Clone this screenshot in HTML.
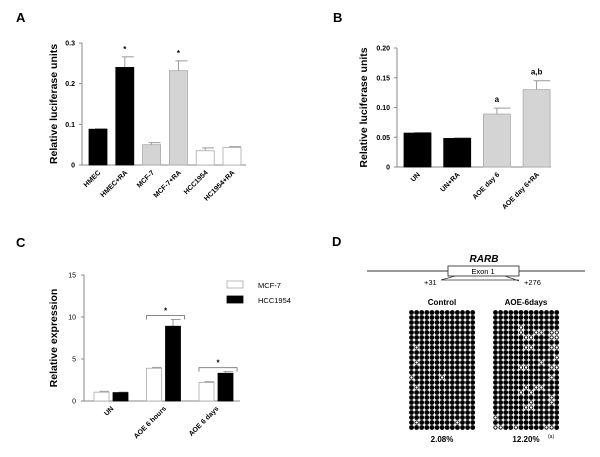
<!DOCTYPE html>
<html><head><meta charset="utf-8"><style>
html,body{margin:0;padding:0;background:#fff;}
svg{display:block;font-family:"Liberation Sans",Arial,sans-serif;}
</style></head><body>
<svg id="fig" width="600" height="457" viewBox="0 0 600 457">
<g id="pA"></g>
<g id="pB"></g>
<g id="pC"></g>
<g id="pD"></g>
</svg>
<script>
// Panel A data
const aCats=["HMEC","HMEC+RA","MCF-7","MCF-7+RA","HCC1954","HC1954+RA"];
const aVals=[0.088,0.240,0.050,0.232,0.035,0.043];
const aErr=[0.001,0.026,0.005,0.024,0.007,0.002];
const aColors=["#000","#000","#d4d4d4","#d4d4d4","#fff","#fff"];
const aStars=["","*","","*","",""];
const aTicks=[0,0.1,0.2,0.3];
const aTickLabels=["0","0.1","0.2","0.3"];
// Panel B data
const bCats=["UN","UN+RA","AOE day 6","AOE day 6+RA"];
const bVals=[0.057,0.048,0.089,0.130];
const bErr=[0.001,0.001,0.010,0.015];
const bColors=["#000","#000","#d4d4d4","#d4d4d4"];
const bNotes=["","","a","a,b"];
const bTicks=[0,0.05,0.10,0.15,0.20];
const bTickLabels=["0","0.05","0.10","0.15","0.20"];
// Panel C data
const cCats=["UN","AOE 6 hours","AOE 6 days"];
const cMCF=[1.05,3.9,2.2];
const cMCFErr=[0.1,0.1,0.1];
const cHCC=[1.0,8.9,3.3];
const cHCCErr=[0.05,0.8,0.2];
const cTicks=[0,5,10,15];
const cSeries=["MCF-7","HCC1954"];
// Panel D data (row,col) unmethylated sites
const dControlOpen=[[7,1],[10,1],[13,0],[13,6],[15,1],[22,1],[22,9]];
const dAoeOpen=[[3,5],[4,5],[4,8],[4,9],[4,11],[4,12],[5,6],[5,7],[5,11],[5,12],[7,6],[7,7],[7,11],[7,12],[9,12],[10,9],[11,5],[11,6],[11,11],[11,12],[13,11],[15,6],[15,8],[15,9],[16,5],[16,7],[17,11],[18,7],[18,11],[19,6],[19,7],[21,0],[23,0],[23,1],[23,4],[23,10],[23,11]];
const dLabels=["Control","AOE-6days"];

const NS="http://www.w3.org/2000/svg";
function el(parent,tag,attrs,text){const e=document.createElementNS(NS,tag);for(const k in attrs)e.setAttribute(k,attrs[k]);if(text!==undefined)e.textContent=text;parent.appendChild(e);return e;}

function barPanel(g,o){
  const y=v=>o.y0-(v/o.max)*(o.y0-o.yTop);
  // axes
  const ya=el(g,'line',{x1:o.ax,y1:o.yTop,x2:o.ax,y2:o.y0,stroke:'#888','stroke-width':1});
  
  
  const xa=el(g,'line',{x1:o.ax,y1:o.y0,x2:o.xEnd,y2:o.y0,stroke:'#888','stroke-width':1});
  
  
  o.ticks.forEach((t,i)=>{
    const tl=el(g,'line',{x1:o.ax-3,y1:y(t),x2:o.ax,y2:y(t),stroke:'#888'});
    
    
    const tx=el(g,'text',{x:o.ax-7,y:y(t)+2.5,'text-anchor':'end','font-size':7,'font-weight':'bold'},o.tickLabels[i]);
    
    
  });
  const tt=el(g,'text',{x:0,y:0,transform:`translate(${o.titleX},${(o.yTop+o.y0)/2}) rotate(-90)`,'text-anchor':'middle','font-size':o.titleSize||10.5,'font-weight':'bold'},o.title);
  
  
  o.vals.forEach((v,i)=>{
    const x=o.x0+i*o.step;
    if(o.err[i]>0.0015*o.max){
      const e1=el(g,'line',{x1:x+o.w/2,y1:y(v),x2:x+o.w/2,y2:y(v+o.err[i]),stroke:'#999'});
      
      
      const e2=el(g,'line',{x1:x+o.w/2-3,y1:y(v+o.err[i]),x2:x+o.w/2+o.w/2,y2:y(v+o.err[i]),stroke:'#999'});
      
      
    }
    const r=el(g,'rect',{x:x,y:y(v),width:o.w,height:o.y0-y(v),fill:o.colors[i],stroke:o.colors[i]==='#000'?'#000':'#aaa','stroke-width':0.8});
    
    
    if(o.notes[i]){
      const n=el(g,'text',{x:x+o.w/2,y:y(v+o.err[i])-o.noteGap,'text-anchor':'middle','font-size':o.noteSize,'font-weight':'bold'},o.notes[i]);
      
      
    }
    const lb=el(g,'text',{x:0,y:0,transform:`translate(${x+o.w/2+3},${o.y0+8}) rotate(-45)`,'text-anchor':'end','font-size':7,'font-weight':'bold'},o.cats[i]);
    
    
  });
}

const A=document.getElementById('pA');
const la=el(A,'text',{x:16,y:22,'font-size':13,'font-weight':'bold'},'A');


barPanel(A,{ax:82,yTop:43,y0:165,xEnd:246,max:0.3,ticks:aTicks,tickLabels:aTickLabels,title:'Relative luciferase units',titleX:57,
  vals:aVals,err:aErr,colors:aColors,cats:aCats,notes:aStars,x0:89,step:26.8,w:18,noteGap:5,noteSize:8});

const B=document.getElementById('pB');
const lbB=el(B,'text',{x:333,y:22,'font-size':13,'font-weight':'bold'},'B');


barPanel(B,{ax:397,yTop:48,y0:167,xEnd:551,max:0.2,ticks:bTicks,tickLabels:bTickLabels,title:'Relative luciferase units',titleX:367,
  vals:bVals,err:bErr,colors:bColors,cats:bCats,notes:bNotes,x0:404,step:39.7,w:27,noteGap:6,noteSize:8});

// Panel C
const C=document.getElementById('pC');
(function(){
  const ax=84,yTop=275,y0=401,xEnd=240,max=15;
  const y=v=>y0-(v/max)*(y0-yTop);
  const lc=el(C,'text',{x:16,y:247,'font-size':13,'font-weight':'bold'},'C');
  
  
  const ya=el(C,'line',{x1:ax,y1:yTop,x2:ax,y2:y0,stroke:'#888'});
  
  
  const xa=el(C,'line',{x1:ax,y1:y0,x2:xEnd,y2:y0,stroke:'#888'});
  
  
  cTicks.forEach(t=>{
    const tl=el(C,'line',{x1:ax-3,y1:y(t),x2:ax,y2:y(t),stroke:'#888'});
    
    
    const tx=el(C,'text',{x:ax-8,y:y(t)+2.5,'text-anchor':'end','font-size':7},String(t));
    
    
  });
  const tt=el(C,'text',{x:0,y:0,transform:`translate(57,${(yTop+y0)/2}) rotate(-90)`,'text-anchor':'middle','font-size':10.5,'font-weight':'bold'},'Relative expression');
  
  
  const gx0=94,gstep=52.5,w=15,gap=4;
  cCats.forEach((c,i)=>{
    const x1=gx0+i*gstep,x2=x1+w+gap;
    [[x1,cMCF[i],cMCFErr[i],'#fff','mcf7'],[x2,cHCC[i],cHCCErr[i],'#000','hcc1954']].forEach(([x,v,e,f,n])=>{
      const eb=el(C,'line',{x1:x+w/2,y1:y(v),x2:x+w/2,y2:y(v+e),stroke:'#999'});
      
      
      const ec=el(C,'line',{x1:x+w/2-2,y1:y(v+e),x2:x+w/2+w/2,y2:y(v+e),stroke:'#999'});
      
      
      const r=el(C,'rect',{x:x,y:y(v),width:w,height:y0-y(v),fill:f,stroke:f==='#000'?'#000':'#aaa','stroke-width':0.8});
      
      
    });
    const lb=el(C,'text',{x:0,y:0,transform:`translate(${x1+w+gap/2+3},${y0+8}) rotate(-45)`,'text-anchor':'end','font-size':7,'font-weight':'bold'},c);
    
    
    if(i>0){
      const top=Math.max(cMCF[i]+cMCFErr[i],cHCC[i]+cHCCErr[i]);
      const by=y(top)-4;
      const br=el(C,'path',{d:`M${x1} ${by+4}V${by}H${x2+w+4}V${by+4}`,fill:'none',stroke:'#888'});
      
      
      const st=el(C,'text',{x:(x1+x2+w+4)/2,y:by-2,'text-anchor':'middle','font-size':8,'font-weight':'bold'},'*');
      
      
    }
  });
  cSeries.forEach((s,i)=>{
    const r=el(C,'rect',{x:227,y:281+i*15,width:16,height:7,fill:i?'#000':'#fff',stroke:i?'#000':'#aaa','stroke-width':0.8});
    
    
    const t=el(C,'text',{x:258,y:288+i*15,'font-size':7.5},s);
    
    
  });
})();

// Panel D
const D=document.getElementById('pD');
(function(){
  const ld=el(D,'text',{x:332,y:246,'font-size':13,'font-weight':'bold'},'D');
  
  
  const gl=el(D,'line',{x1:367,y1:271,x2:585,y2:271,stroke:'#333'});
  
  
  const ex=el(D,'rect',{x:448,y:266,width:71,height:10,fill:'#fff',stroke:'#222','stroke-width':0.8});
  
  
  const et=el(D,'text',{x:483,y:274,'text-anchor':'middle','font-size':7.5},'Exon 1');
  
  
  const rt=el(D,'text',{x:484,y:262,'text-anchor':'middle','font-size':10,'font-weight':'bold','font-style':'italic'},'RARB');
  
  
  const reg=el(D,'path',{d:'M441 280L455 276M441 280H519M519 281L505 276',fill:'none',stroke:'#333','stroke-width':0.8});
  
  
  const p1=el(D,'text',{x:424,y:285,'text-anchor':'start','font-size':7.5},'+31');
  
  
  const p2=el(D,'text',{x:524,y:285,'font-size':7.5},'+276');
  
  
  const grids=[[409,dControlOpen,'2.08%'],[493,dAoeOpen,'12.20%']];
  grids.forEach(([gx,open,pct],gi)=>{
    const set=new Set(open.map(p=>p[0]+','+p[1]));
    const gg=el(D,'g',{});
    
    
    for(let r=0;r<24;r++)for(let c=0;c<13;c++){
      const o=set.has(r+','+c);
      el(gg,'circle',{cx:gx+2.5+c*5.1,cy:312.5+r*5,r:o?1.7:2.4,fill:o?'#fff':'#000',stroke:o?'#000':'none','stroke-width':o?0.9:0});
    }
    const h=el(D,'text',{x:gx+33,y:305,'text-anchor':'middle','font-size':8,'font-weight':'bold'},dLabels[gi]);
    
    
    const pt=el(D,'text',{x:gx+33,y:442,'text-anchor':'middle','font-size':8,'font-weight':'bold'},pct);
    
    
    if(gi){
      const sp=el(D,'text',{x:gx+55,y:438,'font-size':5},'(a)');
      
      
    }
  });
})();
</script>
</body></html>
